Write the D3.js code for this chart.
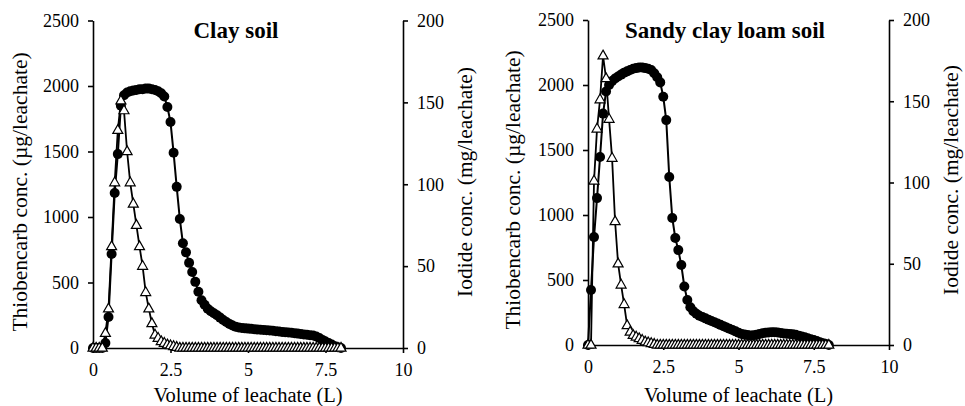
<!DOCTYPE html>
<html>
<head>
<meta charset="utf-8">
<script src="https://cdn.jsdelivr.net/npm/d3@7"></script>
<style>
  html, body { margin: 0; padding: 0; background: #fff; }
  svg { display: block; }
</style>
</head>
<body>
<svg id="chart" width="965" height="406"></svg>
<script>
const FONT = "'Liberation Serif', 'Times New Roman', Tinos, 'DejaVu Serif', serif";
// ---------------- DATA ----------------
const volume = [0.0,0.1,0.2,0.3,0.4,0.5,0.6,0.7,0.8,0.9,
  1.0,1.1,1.2,1.3,1.4,1.5,1.6,1.7,1.8,1.9,
  2.0,2.1,2.2,2.3,2.4,2.5,2.6,2.7,2.8,2.9,
  3.0,3.1,3.2,3.3,3.4,3.5,3.6,3.7,3.8,3.9,
  4.0,4.1,4.2,4.3,4.4,4.5,4.6,4.7,4.8,4.9,
  5.0,5.1,5.2,5.3,5.4,5.5,5.6,5.7,5.8,5.9,
  6.0,6.1,6.2,6.3,6.4,6.5,6.6,6.7,6.8,6.9,
  7.0,7.1,7.2,7.3,7.4,7.5,7.6,7.7,7.8,7.9,8.0];

// Clay soil – thiobencarb (µg/leachate)
const clayThiobencarb = [0,0,0,0,38,237,717,1183,1480,1850,
  1930,1950,1960,1965,1970,1975,1975,1980,1980,1975,
  1970,1960,1945,1920,1840,1725,1490,1230,985,800,
  730,650,580,505,430,365,330,300,280,265,
  250,232,214,198,184,172,162,157,153,150,
  148,146,144,142,140,138,136,133,131,128,
  126,123,121,118,116,113,110,107,104,101,
  98,95,88,76,62,50,38,26,14,6,0];

// Clay soil – iodide (mg/leachate)
const clayIodide = [0,0,0,0,9,24,62,101,133,151,
  145,120,101,88,75,62,50,34,24,15,
  8,6,4,3,2,1.5,1,0.5,0,0,
  0,0,0,0,0,0,0,0,0,0,
  0,0,0,0,0,0,0,0,0,0,
  0,0,0,0,0,0,0,0,0,0,
  0,0,0,0,0,0,0,0,0,0,
  0,0,0,0,0,0,0,0,0,0,0];

// Sandy clay loam soil – thiobencarb (µg/leachate)
const sandyThiobencarb = [0,423,830,1130,1446,1780,1950,2000,2030,2050,
  2065,2080,2095,2105,2115,2125,2130,2135,2135,2130,
  2125,2115,2090,2060,2020,1910,1730,1292,977,823,
  730,615,450,346,290,260,240,225,215,205,
  195,185,175,165,155,145,135,125,115,105,
  95,85,80,76,74,75,78,84,90,94,
  96,98,99,97,93,89,86,84,82,78,
  72,66,60,52,45,38,30,22,14,7,0];

// Sandy clay loam soil – iodide (mg/leachate)
const sandyIodide = [0,0,101,133,151,178,164,139,115,76,
  50,37,25,12,8,6,5,4,3,2,
  1.5,1,0.5,0,0,0,0,0,0,0,
  0,0,0,0,0,0,0,0,0,0,
  0,0,0,0,0,0,0,0,0,0,
  0,0,0,0,0,0,0,0,0,0,
  0,0,0,0,0,0,0,0,0,0,
  0,0,0,0,0,0,0,0,0,0,0];

const panelTitles = ["Clay soil", "Sandy clay loam soil"];
const xTicks = [0, 2.5, 5, 7.5, 10];
const leftTicks = [0, 500, 1000, 1500, 2000, 2500];
const rightTicks = [0, 50, 100, 150, 200];
const xLabel = "Volume of leachate (L)";
const leftLabel = "Thiobencarb conc. (µg/leachate)";
const rightLabel = "Iodide conc. (mg/leachate)";

// ---------------- LAYOUT ----------------
const panels = [
  { title: panelTitles[0], thio: clayThiobencarb, iod: clayIodide,
    x0: 93, x1: 403, yTop: 20.5, yBot: 348, titleX: 236,
    leftLabX: 27, rightLabX: 472, leftLabY: 192, rightLabY: 182 },
  { title: panelTitles[1], thio: sandyThiobencarb, iod: sandyIodide,
    x0: 588, x1: 889, yTop: 20, yBot: 345, titleX: 725,
    leftLabX: 520, rightLabX: 958, leftLabY: 190, rightLabY: 180 }
];

const svg = d3.select("#chart");
const tri = "M0,-5.6L5,3.2L-5,3.2Z";

panels.forEach(p => {
  const g = svg.append("g");
  const x = d3.scaleLinear().domain([0, 10]).range([p.x0, p.x1]);
  const yL = d3.scaleLinear().domain([0, 2500]).range([p.yBot, p.yTop]);
  const yR = d3.scaleLinear().domain([0, 200]).range([p.yBot, p.yTop]);

  const fmt = d => String(d);

  // Axes
  const ax = g.append("g").attr("transform", `translate(0,${p.yBot})`)
    .call(d3.axisBottom(x).tickValues(xTicks).tickFormat(fmt).tickSize(5).tickSizeOuter(0).tickPadding(10));
  const al = g.append("g").attr("transform", `translate(${p.x0},0)`)
    .call(d3.axisLeft(yL).tickValues(leftTicks).tickFormat(fmt).tickSize(5).tickSizeOuter(0).tickPadding(9));
  const ar = g.append("g").attr("transform", `translate(${p.x1},0)`)
    .call(d3.axisRight(yR).tickValues(rightTicks).tickFormat(fmt).tickSize(5).tickSizeOuter(0).tickPadding(9));
  [ax, al, ar].forEach(a => {
    a.attr("font-family", null).attr("font-size", null);
    a.selectAll("path.domain").attr("stroke", "#000").attr("stroke-width", 1.6);
    a.selectAll(".tick line").attr("stroke", "#000").attr("stroke-width", 1.6);
    a.selectAll(".tick text").attr("font-family", FONT)
      .attr("font-size", 18).attr("fill", "#000");
  });

  // Thiobencarb series (filled circles, left axis)
  const thioPts = volume.map((v, i) => ({ v, c: p.thio[i] }));
  g.append("path").datum(thioPts)
    .attr("fill", "none").attr("stroke", "#000").attr("stroke-width", 2)
    .attr("d", d3.line().x(d => x(d.v)).y(d => yL(d.c)));
  g.append("g").selectAll("circle").data(thioPts).join("circle")
    .attr("cx", d => x(d.v)).attr("cy", d => yL(d.c)).attr("r", 5)
    .attr("fill", "#000");

  // Iodide series (open triangles, right axis)
  const iodPts = volume.map((v, i) => ({ v, c: p.iod[i] }));
  g.append("path").datum(iodPts)
    .attr("fill", "none").attr("stroke", "#000").attr("stroke-width", 1.8)
    .attr("d", d3.line().x(d => x(d.v)).y(d => yR(d.c)));
  g.append("g").selectAll("path").data(iodPts).join("path")
    .attr("d", tri)
    .attr("transform", d => `translate(${x(d.v)},${yR(d.c)})`)
    .attr("fill", "#fff").attr("stroke", "#000").attr("stroke-width", 1.2);

  // Titles and labels
  g.append("text").attr("x", p.titleX).attr("y", 38).attr("text-anchor", "middle")
    .attr("font-family", FONT).attr("font-size", 23).attr("font-weight", "bold").text(p.title);
  g.append("text").attr("x", (p.x0 + p.x1) / 2).attr("y", 402).attr("text-anchor", "middle")
    .attr("font-family", FONT).attr("font-size", 20.5).text(xLabel);
  g.append("text").attr("transform", `translate(${p.leftLabX},${p.leftLabY}) rotate(-90)`)
    .attr("text-anchor", "middle").attr("font-family", FONT).attr("font-size", 21.5).text(leftLabel);
  g.append("text").attr("transform", `translate(${p.rightLabX},${p.rightLabY}) rotate(-90)`)
    .attr("text-anchor", "middle").attr("font-family", FONT).attr("font-size", 21.5).text(rightLabel);
});
</script>
</body>
</html>
